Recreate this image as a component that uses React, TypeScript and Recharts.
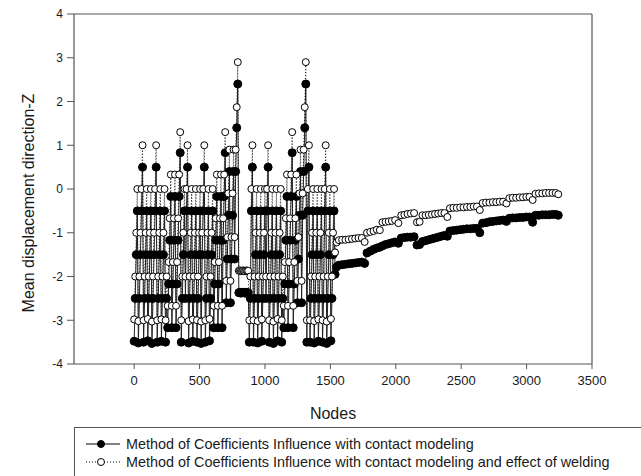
import React from 'react';
import { LineChart, Line, XAxis, YAxis, ReferenceLine, Legend, Label } from 'recharts';

// ---- Data ----
const xTicks = [0, 500, 1000, 1500, 2000, 2500, 3000, 3500];
const yTicks = [-4, -3, -2, -1, 0, 1, 2, 3, 4];

const seriesNames = [
  'Method of Coefficients Influence with contact modeling',
  'Method of Coefficients Influence with contact modeling and effect of welding',
];

// group A
const nodesA = [0, 8, 16, 24, 32, 40, 48, 56, 64, 72, 80, 88, 96, 104, 112, 120, 128, 136, 144, 152, 160, 168, 176, 184, 192, 200, 208, 216, 224, 232, 240, 248];
const filledA = [-3.48, -2.5, -1.5, -0.5, -3.52, -2.5, -1.5, -0.5, 0.5, -3.5, -2.5, -1.5, -0.5, -3.47, -2.5, -1.5, -0.5, -3.53, -2.5, -1.5, -0.5, 0.5, -3.5, -2.5, -1.5, -0.5, -3.48, -2.5, -1.5, -0.5, -3.5, -2.5];
const openA = [-2.98, -2, -1, 0, -3.02, -2, -1, 0, 1, -3, -2, -1, 0, -2.97, -2, -1, 0, -3.03, -2, -1, 0, 1, -3, -2, -1, 0, -2.98, -2, -1, 0, -3, -2];

// shifted group A'
const nodesA2 = [256, 264, 272, 280, 288, 296, 304, 312, 320, 328, 336, 344, 352];
const filledA2 = [-3.17, -2.17, -1.17, -0.17, -3.17, -2.17, -1.17, -0.17, -3.17, -2.17, -1.17, -0.17, 0.83];
const openA2 = [-2.67, -1.67, -0.67, 0.33, -2.67, -1.67, -0.67, 0.33, -2.67, -1.67, -0.67, 0.33, 1.3];

// group B
const nodesB = [360, 368, 376, 384, 392, 400, 408, 416, 424, 432, 440, 448, 456, 464, 472, 480, 488, 496, 504, 512, 520, 528, 536, 544, 552, 560, 568, 576, 584, 592, 600];
const filledB = [-3.5, -2.5, -1.5, -0.5, -2.5, -0.5, 0.5, -3.52, -2.5, -1.5, -0.5, -3.48, -2.5, -1.5, -0.5, -3.5, -2.5, -1.5, -0.5, -3.53, -1.5, -0.5, 0.5, -3.5, -2.5, -1.5, -0.5, -3.47, -2.5, -1.5, -0.5];
const openB = [-3, -2, -1, 0, -2, 0, 1, -3.02, -2, -1, 0, -2.98, -2, -1, 0, -3, -2, -1, 0, -3.03, -1, 0, 1, -3, -2, -1, 0, -2.97, -2, -1, 0];

// shifted group B' and first spike
const nodesB2 = [608, 616, 624, 632, 640, 648, 656, 664, 672, 680, 688, 696, 704, 712, 720, 728, 736, 744, 752, 760, 768, 776, 784, 792];
const filledB2 = [-3.17, -2.17, -1.17, -0.17, -3.17, -2.17, -1.17, -0.17, -3.17, -1.17, -0.17, 0.83, -2.6, -1.6, -0.6, 0.4, -2.6, -1.6, -0.6, 0.4, -1.6, 0.4, 1.4, 2.4];
const openB2 = [-2.67, -1.67, -0.67, 0.33, -2.67, -1.67, -0.67, 0.33, -2.67, -0.67, 0.33, 1.3, -2.1, -1.1, -0.1, 0.9, -2.1, -1.1, -0.1, 0.9, -1.1, 0.9, 1.87, 2.9];

// flat stretch after first spike
const nodesF = [800, 808, 816, 824, 832, 840, 848, 856, 864, 872];
const filledF = [-2.37, -2.36, -2.38, -2.37, -2.36, -2.37, -2.38, -2.36, -2.37, -2.37];
const openF = [-1.87, -1.86, -1.88, -1.87, -1.86, -1.87, -1.88, -1.86, -1.87, -1.87];

// group C
const nodesC = [880, 888, 896, 904, 912, 920, 928, 936, 944, 952, 960, 968, 976, 984, 992, 1000, 1008, 1016, 1024, 1032, 1040, 1048, 1056, 1064, 1072, 1080, 1088, 1096, 1104, 1112, 1120, 1128, 1136];
const filledC = [-3.5, -2.5, -0.5, 0.5, -3.5, -2.5, -1.5, -0.5, -3.52, -2.5, -1.5, -0.5, -3.48, -2.5, -1.5, -0.5, -2.5, -0.5, 0.5, -3.5, -2.5, -1.5, -0.5, -3.53, -2.5, -1.5, -0.5, -3.47, -2.5, -1.5, -0.5, -3.5, -2.5];
const openC = [-3, -2, 0, 1, -3, -2, -1, 0, -3.02, -2, -1, 0, -2.98, -2, -1, 0, -2, 0, 1, -3, -2, -1, 0, -3.03, -2, -1, 0, -2.97, -2, -1, 0, -3, -2];

// shifted group C' and second spike
const nodesC2 = [1144, 1152, 1160, 1168, 1176, 1184, 1192, 1200, 1208, 1216, 1224, 1232, 1240, 1248, 1256, 1264, 1272, 1280, 1288, 1296, 1304, 1312];
const filledC2 = [-3.17, -2.17, -1.17, -0.17, -3.17, -2.17, -1.17, -0.17, 0.83, -3.17, -2.17, -1.17, -0.17, -2.6, -1.6, -0.6, 0.4, -2.6, -0.6, 0.4, 1.4, 2.4];
const openC2 = [-2.67, -1.67, -0.67, 0.33, -2.67, -1.67, -0.67, 0.33, 1.3, -2.67, -1.67, -0.67, 0.33, -2.1, -1.1, -0.1, 0.9, -2.1, -0.1, 0.9, 1.87, 2.9];

// group D
const nodesD = [1320, 1328, 1336, 1344, 1352, 1360, 1368, 1376, 1384, 1392, 1400, 1408, 1416, 1424, 1432, 1440, 1448, 1456, 1464, 1472, 1480, 1488, 1496, 1504, 1512, 1520, 1528, 1536];
const filledD = [-3.5, -0.5, 0.5, -3.5, -2.5, -1.5, -0.5, -3.52, -2.5, -1.5, -0.5, -3.48, -2.5, -1.5, -0.5, -3.5, -2.5, -0.5, 0.5, -3.53, -2.5, -1.5, -0.5, -3.47, -2.5, -1.5, -0.5, -1.95];
const openD = [-3, 0, 1, -3, -2, -1, 0, -3.02, -2, -1, 0, -2.98, -2, -1, 0, -3, -2, 0, 1, -3.03, -2, -1, 0, -2.97, -2, -1, 0, -1.45];

// smooth part
const nodesS = [1548, 1565, 1590, 1615, 1640, 1665, 1690, 1715, 1740, 1762,
  1780, 1805, 1830, 1855, 1878,
  1898, 1922, 1946, 1970, 1995, 2020,
  2042, 2066, 2090, 2115, 2140,
  2162, 2182,
  2204, 2228, 2252, 2276, 2300, 2324, 2348, 2372, 2394,
  2414, 2440, 2466, 2492, 2518, 2544, 2570, 2596, 2620, 2642,
  2664, 2690, 2716, 2742, 2768, 2794, 2820, 2846,
  2868, 2894, 2920, 2946, 2972, 2998, 3022, 3046,
  3068, 3094, 3120, 3146, 3172, 3198, 3222, 3242];
const filledS = [-1.78, -1.74, -1.73, -1.72, -1.71, -1.7, -1.69, -1.68, -1.67, -1.7,
  -1.46, -1.42, -1.38, -1.35, -1.33,
  -1.3, -1.27, -1.25, -1.23, -1.21, -1.24,
  -1.12, -1.11, -1.1, -1.1, -1.09,
  -1.28, -1.27,
  -1.2, -1.18, -1.16, -1.14, -1.12, -1.1, -1.08, -1.06, -1.08,
  -0.96, -0.95, -0.94, -0.93, -0.92, -0.91, -0.91, -0.9, -0.9, -1.0,
  -0.78, -0.77, -0.75, -0.74, -0.73, -0.72, -0.71, -0.74,
  -0.67, -0.66, -0.66, -0.65, -0.65, -0.64, -0.64, -0.76,
  -0.6, -0.6, -0.59, -0.59, -0.59, -0.58, -0.58, -0.6];
const openS = [-1.22, -1.17, -1.16, -1.16, -1.15, -1.14, -1.13, -1.12, -1.12, -1.21,
  -1.0, -0.98, -0.96, -0.93, -0.94,
  -0.76, -0.75, -0.74, -0.73, -0.71, -0.78,
  -0.6, -0.59, -0.57, -0.56, -0.55,
  -0.76, -0.75,
  -0.6, -0.6, -0.59, -0.58, -0.57, -0.56, -0.55, -0.55, -0.64,
  -0.44, -0.43, -0.43, -0.42, -0.42, -0.41, -0.41, -0.4, -0.4, -0.48,
  -0.32, -0.31, -0.31, -0.3, -0.3, -0.29, -0.29, -0.33,
  -0.21, -0.2, -0.2, -0.19, -0.19, -0.18, -0.18, -0.25,
  -0.11, -0.1, -0.1, -0.09, -0.09, -0.09, -0.09, -0.12];

const allNodes = [nodesA, nodesA2, nodesB, nodesB2, nodesF, nodesC, nodesC2, nodesD, nodesS];
const allFilled = [filledA, filledA2, filledB, filledB2, filledF, filledC, filledC2, filledD, filledS];
const allOpen = [openA, openA2, openB, openB2, openF, openC, openC2, openD, openS];

const rows: { node: number; filled: number; open: number }[] = [];
allNodes.forEach((ns, g) => {
  ns.forEach((n, i) => {
    rows.push({ node: n, filled: allFilled[g][i], open: allOpen[g][i] });
  });
});

const FONT = '"Liberation Sans", Arial, sans-serif';
const AXIS = '#555';
const TEXT = '#1a1a1a';

function LegendBox() {
  return (
    <div
      style={{
        position: 'relative',
        width: 600,
        height: 62,
        border: `1px solid ${AXIS}`,
        boxSizing: 'border-box',
        background: '#fff',
        fontFamily: FONT,
        fontSize: 14.4,
        color: TEXT,
      }}
    >
      {[0, 1].map((k) => (
        <div key={k} style={{ position: 'absolute', left: 0, top: k === 0 ? 8 : 26, height: 16, display: 'flex', alignItems: 'center', whiteSpace: 'nowrap' }}>
          <svg width={50} height={16} style={{ display: 'block' }}>
            <line x1={11} y1={8} x2={45} y2={8} stroke="#000" strokeWidth={1} strokeDasharray={k === 0 ? undefined : '1 2'} />
            <circle cx={26} cy={8} r={3.5} fill={k === 0 ? '#000' : '#fff'} stroke="#000" strokeWidth={1} />
          </svg>
          <span style={{ marginLeft: 1, lineHeight: '16px' }}>{seriesNames[k]}</span>
        </div>
      ))}
    </div>
  );
}

export default function App() {
  return (
    <div style={{ position: 'absolute', left: 0, top: 0, width: 641, height: 476, background: '#fff', overflow: 'hidden' }}>
      <LineChart width={641} height={476} data={rows} margin={{ top: 14, right: 49, left: 0, bottom: 0 }}>
        <XAxis
          dataKey="node"
          type="number"
          domain={[-460, 3500]}
          ticks={xTicks}
          height={63}
          axisLine={{ stroke: AXIS, strokeWidth: 1.2 }}
          tickLine={{ stroke: AXIS }}
          tickSize={5}
          tickMargin={7}
          tick={{ fill: TEXT, fontSize: 13, fontFamily: FONT }}
          allowDataOverflow
        >
          <Label
            content={(p: any) => {
              const vb = p.viewBox || { x: 74, y: 364, width: 518, height: 63 };
              return (
                <text x={vb.x + vb.width / 2} y={vb.y + 49} textAnchor="middle" dominantBaseline="central" fontSize={16} fontFamily={FONT} fill={TEXT}>
                  Nodes
                </text>
              );
            }}
          />
        </XAxis>
        <YAxis
          type="number"
          domain={[-4, 4]}
          ticks={yTicks}
          width={74}
          axisLine={{ stroke: AXIS, strokeWidth: 1.2 }}
          tickLine={{ stroke: AXIS }}
          tickSize={7}
          tickMargin={4}
          tick={{ fill: TEXT, fontSize: 12, fontFamily: FONT }}
          allowDataOverflow
        >
          <Label
            content={(p: any) => {
              const vb = p.viewBox || { x: 0, y: 14, width: 74, height: 350 };
              const cx = vb.x + 28;
              const cy = vb.y + vb.height / 2 + 14;
              return (
                <text x={cx} y={cy} transform={`rotate(-90 ${cx} ${cy})`} textAnchor="middle" dominantBaseline="central" fontSize={16} fontFamily={FONT} fill={TEXT}>
                  Mean displacement direction-Z
                </text>
              );
            }}
          />
        </YAxis>
        <ReferenceLine y={4} stroke={AXIS} strokeWidth={1.2} />
        <ReferenceLine x={3500} stroke={AXIS} strokeWidth={1.2} />
        <Line
          dataKey="filled"
          name={seriesNames[0]}
          stroke="#222"
          strokeWidth={1}
          dot={{ r: 4, fill: '#000', stroke: '#000', strokeWidth: 1 }}
          isAnimationActive={false}
        />
        <Line
          dataKey="open"
          name={seriesNames[1]}
          stroke="#222"
          strokeWidth={1}
          strokeDasharray="1 2"
          dot={{ r: 3.5, fill: '#fff', stroke: '#000', strokeWidth: 1, strokeDasharray: 'none' }}
          isAnimationActive={false}
        />
        <Legend
          verticalAlign="bottom"
          content={() => <LegendBox />}
          wrapperStyle={{ left: 74, top: 427, width: 600, height: 49, overflow: 'visible' }}
        />
      </LineChart>
    </div>
  );
}
